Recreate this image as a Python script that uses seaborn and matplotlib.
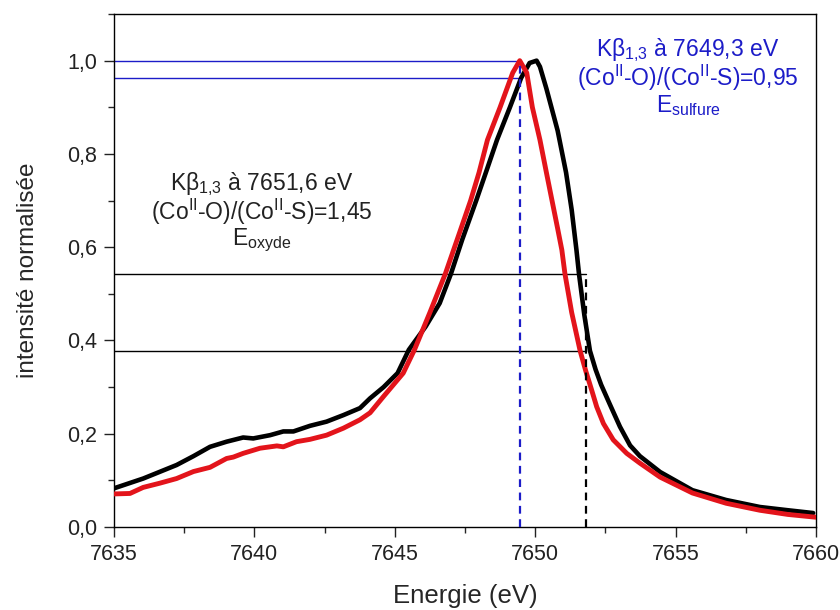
import numpy as np
import pandas as pd
import seaborn as sns
import matplotlib.pyplot as plt
from matplotlib.ticker import MultipleLocator

# --- data ---
# black curve: oxide reference
oxyde_energy = [7635.0, 7636.04, 7637.23, 7637.83, 7638.42, 7639.01, 7639.6, 7639.96,
                7640.56, 7641.03, 7641.39, 7641.98, 7642.57, 7643.17, 7643.76, 7644.12,
                7644.6, 7645.1, 7645.5, 7646.1, 7646.6, 7647.0, 7647.4, 7647.9, 7648.3,
                7648.64, 7649.1, 7649.5, 7649.8, 7650.05, 7650.17, 7650.4, 7650.8,
                7651.1, 7651.3, 7651.47, 7651.56, 7651.75, 7651.95, 7652.15, 7652.35,
                7652.66, 7653.02, 7653.38, 7653.73, 7654.45, 7655.6, 7656.8, 7658.0,
                7659.0, 7659.9]
oxyde_int = [0.083, 0.104, 0.133, 0.152, 0.172, 0.183, 0.192, 0.190,
             0.197, 0.205, 0.205, 0.217, 0.226, 0.240, 0.255, 0.276,
             0.30, 0.33, 0.38, 0.43, 0.48, 0.543, 0.616, 0.70, 0.77,
             0.83, 0.90, 0.963, 0.995, 1.0, 0.987, 0.94, 0.85,
             0.76, 0.68, 0.594, 0.543, 0.455, 0.378, 0.338, 0.305,
             0.263, 0.215, 0.175, 0.152, 0.118, 0.079, 0.058, 0.043,
             0.036, 0.030]

# red curve: sulfide sample
sulfure_energy = [7635.0, 7635.57, 7636.04, 7636.63, 7637.23, 7637.83, 7638.42, 7639.01,
                  7639.25, 7639.6, 7640.2, 7640.8, 7641.03, 7641.5, 7641.98, 7642.57,
                  7643.17, 7643.76, 7644.12, 7644.6, 7645.3, 7645.7, 7646.25, 7646.8,
                  7647.3, 7647.7, 7648.0, 7648.3, 7648.75, 7649.2, 7649.45, 7649.7,
                  7649.9, 7650.17, 7650.4, 7650.6, 7650.8, 7650.95, 7651.06, 7651.3,
                  7651.6, 7651.8, 7652.01, 7652.19, 7652.43, 7652.78, 7653.26, 7653.73,
                  7654.45, 7655.6, 7656.8, 7658.0, 7659.0, 7660.0]
sulfure_int = [0.071, 0.072, 0.085, 0.094, 0.104, 0.119, 0.128, 0.147,
               0.150, 0.158, 0.169, 0.174, 0.172, 0.183, 0.188, 0.197,
               0.212, 0.230, 0.245, 0.28, 0.33, 0.38, 0.46, 0.543,
               0.63, 0.70, 0.76, 0.83, 0.90, 0.974, 1.0, 0.974,
               0.90, 0.83, 0.76, 0.70, 0.64, 0.594, 0.543, 0.46,
               0.378, 0.335, 0.294, 0.258, 0.222, 0.187, 0.158, 0.137,
               0.107, 0.073, 0.051, 0.036, 0.027, 0.021]

# reference markers
e_sulfure = 7649.45
e_oxyde = 7651.8
blue_levels = [1.0, 0.963]
black_levels = [0.543, 0.378]

x_ticks = [7635, 7640, 7645, 7650, 7655, 7660]
y_ticks = [0.0, 0.2, 0.4, 0.6, 0.8, 1.0]
y_tick_labels = ["0,0", "0,2", "0,4", "0,6", "0,8", "1,0"]

oxyde_lines = ["Kβ$_{\\mathregular{1{,}3}}$ à 7651,6 eV",
               "(Co$^{\\mathregular{II}}$-O)/(Co$^{\\mathregular{II}}$-S)=1,45",
               "E$_{\\mathregular{oxyde}}$"]
sulfure_lines = ["Kβ$_{\\mathregular{1{,}3}}$ à 7649,3 eV",
                 "(Co$^{\\mathregular{II}}$-O)/(Co$^{\\mathregular{II}}$-S)=0,95",
                 "E$_{\\mathregular{sulfure}}$"]

sns.set_theme(style="ticks")
plt.rcParams['font.family'] = ['Liberation Sans', 'DejaVu Sans']
plt.rcParams['mathtext.fontset'] = 'custom'
plt.rcParams['mathtext.rm'] = 'Liberation Sans'
plt.rcParams['mathtext.it'] = 'Liberation Sans:italic'
plt.rcParams['mathtext.bf'] = 'Liberation Sans:bold'

df_ox = pd.DataFrame({'Energie': oxyde_energy, 'I': oxyde_int})
df_su = pd.DataFrame({'Energie': sulfure_energy, 'I': sulfure_int})

fig = plt.figure(figsize=(8.4, 6.1), dpi=100)
ax = fig.add_axes([0.1357, 0.136, 0.8357, 0.841])

blue = '#1c1cc8'

# guide lines
for lvl in blue_levels:
    ax.plot([7635, e_sulfure], [lvl, lvl], color=blue, lw=1.0, zorder=1)
for lvl in black_levels:
    ax.plot([7635, e_oxyde], [lvl, lvl], color='black', lw=1.0, zorder=1)
ax.plot([e_sulfure, e_sulfure], [0, 1.0], color=blue, lw=1.6, ls=(0, (3.5, 2.5)), zorder=4)
ax.plot([e_oxyde, e_oxyde], [0, black_levels[0]], color='black', lw=1.6, ls=(0, (3.5, 2.5)), zorder=4)

sns.lineplot(data=df_ox, x='Energie', y='I', color='black', lw=3.3, ax=ax, sort=False, zorder=2)
sns.lineplot(data=df_su, x='Energie', y='I', color='#e3141b', lw=3.5, ax=ax, sort=False, zorder=3)

ax.set_xlim(7635, 7660)
ax.set_ylim(0, 1.1)
ax.set_xticks(x_ticks)
ax.set_xticklabels([str(t) for t in x_ticks])
ax.set_yticks(y_ticks)
ax.set_yticklabels(y_tick_labels)
ax.xaxis.set_minor_locator(MultipleLocator(2.5))
ax.yaxis.set_minor_locator(MultipleLocator(0.1))
ax.tick_params(which='major', direction='out', length=7, width=1.0, labelsize=15.5,
               colors='#222222', pad=5)
ax.tick_params(which='minor', direction='out', length=4, width=1.0)
for sp in ax.spines.values():
    sp.set_linewidth(1.0)
    sp.set_color('black')

ax.set_xlabel('Energie (eV)', fontsize=18.5, labelpad=14)
ax.set_ylabel('intensité normalisée', fontsize=17.5, labelpad=20)

# annotations, one line at a time (figure pixel rows from the reference)
for txt, ypix in zip(oxyde_lines, [184, 212, 240]):
    fig.text(262 / 840, 1 - ypix / 610, txt, ha='center', va='center',
             fontsize=16.5, color='#222222')
for txt, ypix in zip(sulfure_lines, [50, 78, 106]):
    fig.text(688 / 840, 1 - ypix / 610, txt, ha='center', va='center',
             fontsize=16.5, color=blue)

fig.savefig('out.png', dpi=100)
